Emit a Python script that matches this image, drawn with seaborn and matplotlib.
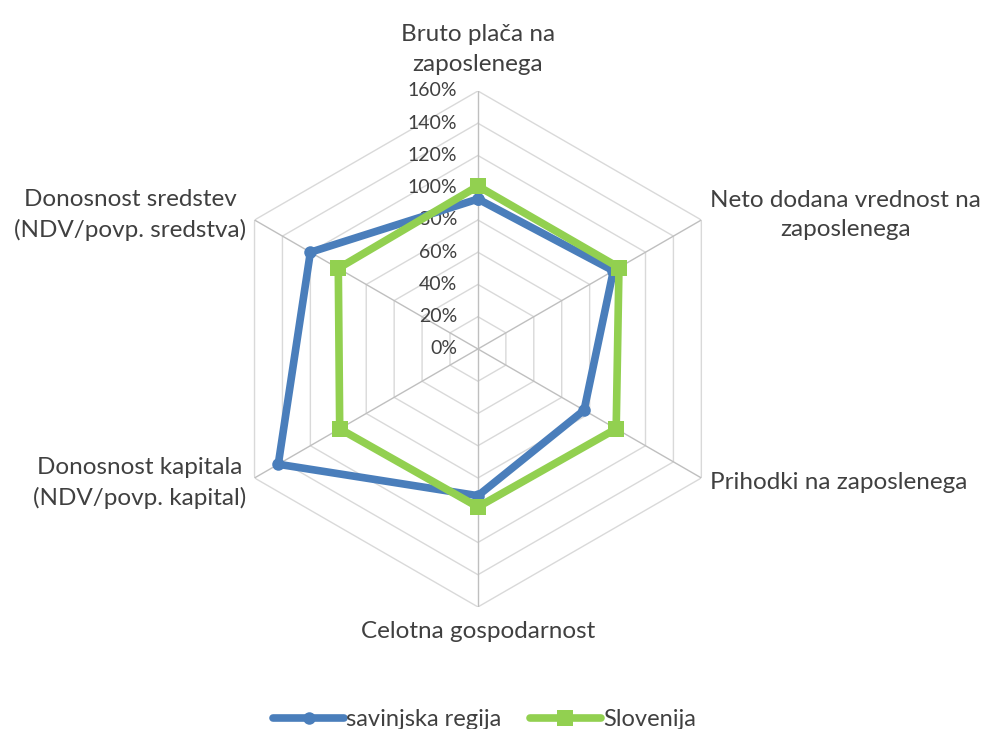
import numpy as np
import pandas as pd
import matplotlib
matplotlib.use('Agg')
import matplotlib.pyplot as plt
import seaborn as sns

# data
categories = ['Bruto plača na\nzaposlenega',
              'Neto dodana vrednost na\nzaposlenega',
              'Prihodki na zaposlenega',
              'Celotna gospodarnost',
              'Donosnost kapitala\n(NDV/povp. kapital)',
              'Donosnost sredstev\n(NDV/povp. sredstva)']
savinjska = [93, 97, 76, 91, 143, 120]
slovenija = [101, 101, 99, 98, 99, 100]
series_names = ['savinjska regija', 'Slovenija']
r_ticks = [0, 20, 40, 60, 80, 100, 120, 140, 160]

sns.set_style('white')
plt.rcParams['font.family'] = ['Lato', 'DejaVu Sans']

n = len(categories)
angles = np.linspace(0, 2 * np.pi, n, endpoint=False)
closed = np.append(angles, angles[0])

rows = []
for name, vals in zip(series_names, [savinjska, slovenija]):
    for a, v in zip(closed, vals + vals[:1]):
        rows.append({'theta': a, 'value': v, 'serija': name})
df = pd.DataFrame(rows)

fig = plt.figure(figsize=(9.89, 7.29), dpi=100)
ax = fig.add_axes([0.2224, 0.1674, 0.5217, 0.7078], projection='polar')
ax.set_theta_offset(np.pi / 2)
ax.set_theta_direction(-1)
ax.set_ylim(0, 160)
ax.grid(False)
ax.spines['polar'].set_visible(False)
ax.set_xticks([])
ax.set_yticks([])

# hexagonal grid
for r in r_ticks[1:]:
    ax.plot(closed, [r] * (n + 1), color='#d9d9d9', lw=1, zorder=1)
for a in angles:
    ax.plot([a, a], [0, r_ticks[-1]], color='#bfbfbf', lw=1, zorder=1)

for r in r_ticks:
    ax.annotate(f'{r}%', xy=(0, r), xytext=(-15, 0), textcoords='offset points',
                ha='right', va='center', fontsize=14, color='#404040')

palette = {'savinjska regija': '#4a7ebb', 'Slovenija': '#92d050'}
sizes = {'savinjska regija': 9, 'Slovenija': 11}
for name, m in zip(series_names, ['o', 's']):
    sns.lineplot(data=df[df['serija'] == name], x='theta', y='value',
                 color=palette[name], marker=m, sort=False, estimator=None,
                 lw=5.5, markersize=sizes[name], markeredgewidth=0, ax=ax,
                 legend=False, zorder=3)
ax.set_xlabel('')
ax.set_ylabel('')

# category labels
label_pos = [(170, 'center', 'bottom'), (166, 'left', 'center'),
             (166, 'left', 'center'), (169, 'center', 'top'),
             (166, 'right', 'center'), (166, 'right', 'center')]
for a, lab, (r, ha, va) in zip(angles, categories, label_pos):
    ax.text(a, r, lab, ha=ha, va=va, multialignment='center',
            fontsize=17.5, color='#404040', linespacing=1.5)

handles = [plt.Line2D([], [], color=palette[s], lw=5.5, marker=m,
                      markersize=sizes[s], markeredgewidth=0)
           for s, m in zip(series_names, ['o', 's'])]
fig.legend(handles, series_names, loc='center', bbox_to_anchor=(0.49, 0.013),
           ncol=2, frameon=False, fontsize=17, handlelength=3,
           columnspacing=1.2, handletextpad=0.1, labelcolor='#404040')

fig.savefig('out.png', dpi=100)
